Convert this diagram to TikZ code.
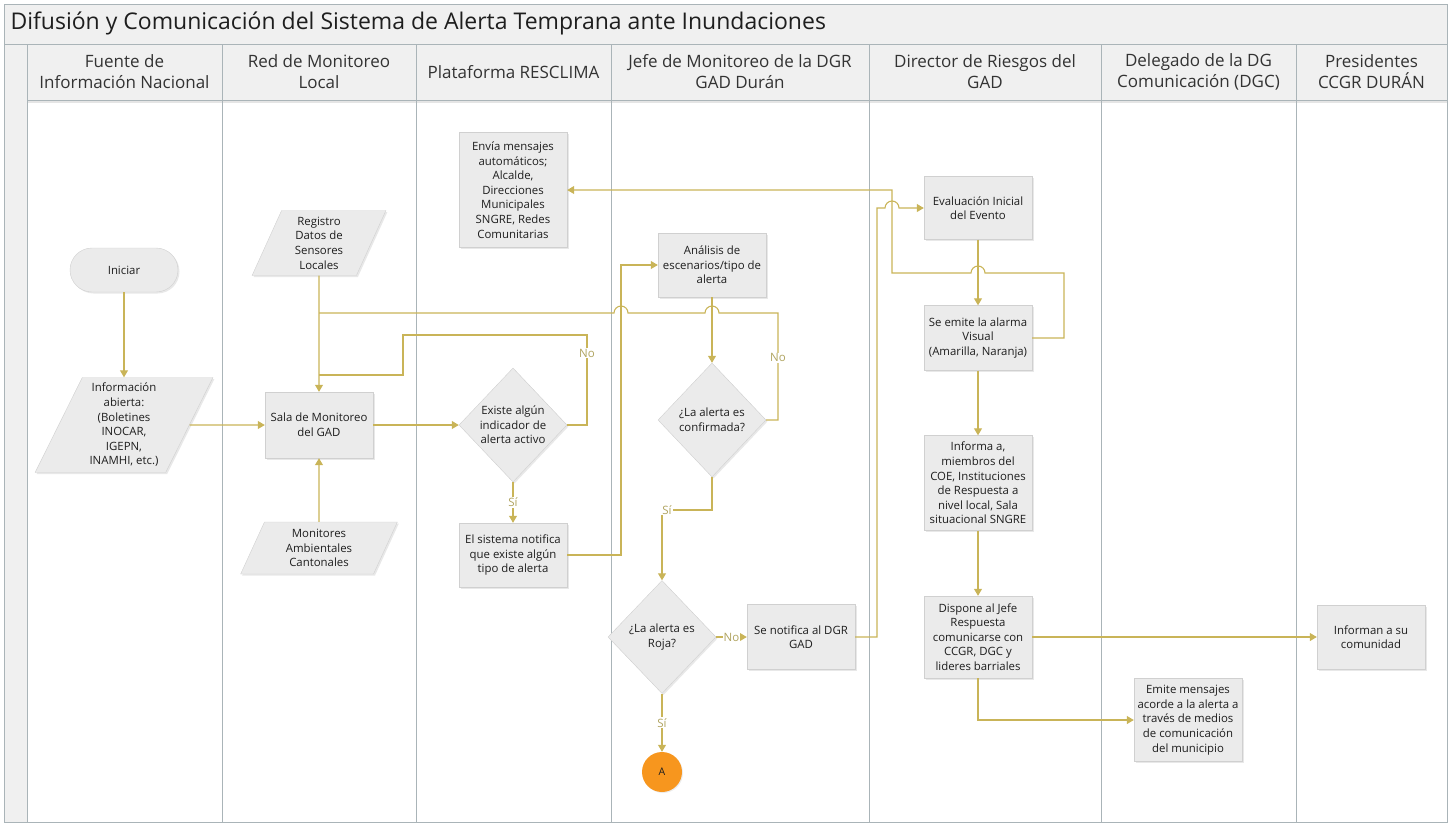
\documentclass[tikz,border=0pt]{standalone}
\usepackage{fontspec}
\setmainfont{Open Sans}
\usetikzlibrary{shapes.geometric,arrows.meta,shadows}

\definecolor{flow}{RGB}{201,180,88}
\definecolor{flowtag}{RGB}{176,164,96}
\definecolor{lanecol}{RGB}{170,180,184}
\definecolor{headfill}{RGB}{240,240,240}
\definecolor{boxfill}{RGB}{235,235,235}
\definecolor{boxline}{RGB}{208,208,208}
\definecolor{ink}{RGB}{30,30,30}
\definecolor{connA}{RGB}{247,150,30}

\begin{document}
\begin{tikzpicture}[x=1pt,y=-1pt,
    every node/.style={font=\fontsize{11.4}{14.6}\selectfont,text=ink,align=center},
    box/.style={draw=boxline,fill=boxfill,minimum width=108pt,inner sep=0pt,
      drop shadow={shadow xshift=1.5pt,shadow yshift=-1.5pt,opacity=.18}},
    term/.style={box,rounded corners=22pt,minimum height=44pt},
    para/.style={box,trapezium,trapezium stretches=true},
    dec/.style={box,diamond,minimum width=108pt,minimum height=114pt},
    lane/.style={draw=lanecol,line width=0.9pt},
    lanehead/.style={font=\fontsize{17}{21}\selectfont,text=black!80},
    flowline/.style={draw=flow,line width=1.1pt},
    arr/.style={flowline,-{Triangle[length=7pt,width=8pt]}},
    tag/.style={fill=white,text=flowtag,inner sep=1pt,font=\fontsize{11.5}{12}\selectfont}]
  \useasboundingbox (0,0) rectangle (1454,823);

  % Pool and lanes
  \fill[headfill] (4,4) rectangle (1447,100);
  \fill[headfill] (4,100) rectangle (27,822);
  \draw[black!10,line width=2pt] (27,102) -- (1447,102);
  \draw[lane] (4,4) rectangle (1447,822);
  \draw[lane] (4,44) -- (1447,44);
  \draw[lane] (27,100) -- (1447,100);
  \foreach \x in {27,222,416,611,869,1101,1296}
    \draw[lane] (\x,44) -- (\x,822);

  \node[anchor=west,font=\fontsize{23}{26}\selectfont] (title) at (7,23)
    {Difusión y Comunicación del Sistema de Alerta Temprana ante Inundaciones};

  % Lane headers
  \node[lanehead] (h1) at (124.5,72) {Fuente de\\Información Nacional};
  \node[lanehead] (h2) at (319,72) {Red de Monitoreo\\Local};
  \node[lanehead] (h3) at (513.5,72) {Plataforma RESCLIMA};
  \node[lanehead] (h4) at (740,72) {Jefe de Monitoreo de la DGR\\GAD Durán};
  \node[lanehead] (h5) at (985,72) {Director de Riesgos del\\GAD};
  \node[lanehead] (h6) at (1198.5,72) {Delegado de la DG\\Comunicación (DGC)};
  \node[lanehead] (h7) at (1371.5,72) {Presidentes\\CCGR DURÁN};

  % Fuente de Información Nacional
  \node[term] (ini) at (124,270) {Iniciar};
  \node[para,trapezium left angle=65,trapezium right angle=115,
    minimum width=178pt,minimum height=95pt] (info) at (124,425)
    {Información\\abierta:\\(Boletines\\INOCAR,\\IGEPN,\\INAMHI, etc.)};

  % Red de Monitoreo Local
  \node[para,trapezium left angle=70,trapezium right angle=110,
    minimum width=135pt,minimum height=65pt] (reg) at (319,243)
    {Registro\\Datos de\\Sensores\\Locales};
  \node[box,minimum height=66pt] (sala) at (319,425) {Sala de Monitoreo\\del GAD};
  \node[para,trapezium left angle=69,trapezium right angle=111,
    minimum width=157pt,minimum height=52pt] (mon) at (319,548)
    {Monitores\\Ambientales\\Cantonales};
  \coordinate (j1) at (319,313);
  \coordinate (j2) at (319,375);

  % Plataforma RESCLIMA
  \node[box,minimum height=115pt] (env) at (513,190)
    {Envía mensajes\\automáticos;\\Alcalde,\\Direcciones\\Municipales\\SNGRE, Redes\\Comunitarias};
  \node[dec,label={center:{Existe algún\\indicador de\\alerta activo}}] (exi) at (513,425) {};
  \node[box,minimum height=64pt] (sis) at (513,555)
    {El sistema notifica\\que existe algún\\tipo de alerta};

  % Jefe de Monitoreo
  \node[box,minimum height=64pt] (ana) at (712,265) {Análisis de\\escenarios/tipo de\\alerta};
  \node[dec,label={center:{¿La alerta es\\confirmada?}}] (conf) at (712,420) {};
  \node[dec,minimum height=113pt,label={center:{¿La alerta es\\Roja?}}] (roja) at (662,637) {};
  \node[box,minimum height=65pt] (not) at (801,637) {Se notifica al DGR\\GAD};
  \node[circle,fill=connA,minimum size=40pt,inner sep=0pt,font=\fontsize{10.5}{12}\selectfont,
    drop shadow={shadow xshift=1pt,shadow yshift=-1pt,opacity=.15}] (A) at (662,772) {A};

  % Director de Riesgos
  \node[box,minimum height=63pt] (eva) at (978,208) {Evaluación Inicial\\del Evento};
  \node[box,minimum height=65pt] (emi) at (978,338) {Se emite la alarma\\Visual\\(Amarilla, Naranja)};
  \node[box,minimum height=95pt] (inf) at (978,483)
    {Informa a,\\miembros del\\COE, Instituciones\\de Respuesta a\\nivel local, Sala\\situacional SNGRE};
  \node[box,minimum height=82pt] (dis) at (978,637)
    {Dispone al Jefe\\Respuesta\\comunicarse con\\CCGR, DGC y\\lideres barriales};

  % Comunicación y CCGR
  \node[box,minimum height=83pt] (emm) at (1188,720)
    {Emite mensajes\\acorde a la alerta a\\través de medios\\de comunicación\\del municipio};
  \node[box,minimum height=64pt] (com) at (1371,637) {Informan a su\\comunidad};

  % Flow
  \draw[arr] (ini) -- (info);
  \draw[arr] (info) -- (sala);
  \draw[arr] (reg) -- (sala);
  \draw[arr] (mon) -- (sala);
  \draw[arr] (sala) -- (exi);
  \draw[flowline] (exi.east) -| node[tag,pos=.9]{No} (587,335) -| (403,375) -- (j2);
  \draw[arr] (exi) -- node[tag]{Sí} (sis);
  \draw[arr] (sis.east) -- (621,555) |- (ana.west);
  \draw[arr] (ana) -- (conf);
  \draw[flowline] (conf.east) -| node[tag,pos=.79]{No} (778,313)
    -- (719,313) arc[start angle=0,end angle=180,radius=7pt]
    -- (628,313) arc[start angle=0,end angle=180,radius=7pt] -- (j1);
  \draw[arr] (conf.south) |- node[tag,pos=.95]{Sí} (662,510) -- (roja.north);
  \draw[arr] (roja) -- node[tag]{No} (not);
  \draw[arr] (roja) -- node[tag]{Sí} (A);
  \draw[arr] (not.east) -- (877,637) -- (877,208)
    -- (885,208) arc[start angle=180,end angle=0,radius=7pt] -- (eva.west);
  \draw[arr] (eva) -- (emi);
  \draw[arr] (emi.east) -- (1064,338) -- (1064,273)
    -- (985,273) arc[start angle=0,end angle=180,radius=7pt] -- (892,273)
    -- (892,190) -- (env.east);
  \draw[arr] (emi) -- (inf);
  \draw[arr] (inf) -- (dis);
  \draw[arr] (dis) -- (com);
  \draw[arr] (dis.south) |- (emm.west);
\end{tikzpicture}
\end{document}
